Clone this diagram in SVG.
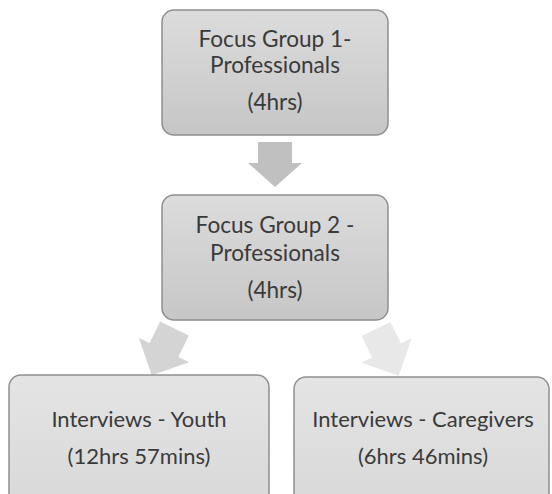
<svg xmlns="http://www.w3.org/2000/svg" width="552" height="494" viewBox="0 0 552 494">
  <defs>
    <linearGradient id="gTop" x1="0" y1="0" x2="0" y2="1">
      <stop offset="0" stop-color="#dcdcdc"/>
      <stop offset="1" stop-color="#c6c6c6"/>
    </linearGradient>
    <linearGradient id="gBot" x1="0" y1="0" x2="0" y2="1">
      <stop offset="0" stop-color="#e4e4e4"/>
      <stop offset="1" stop-color="#d8d8d8"/>
    </linearGradient>
    <path id="arrowShape" d="M-16,0 L16,0 L16,24 L28,24 L0,52 L-28,24 L-16,24 Z"/>
  </defs>
  <style>
    .box { stroke: #8f8f8f; stroke-width: 1.5; }
    .top { fill: url(#gTop); }
    .bot { fill: url(#gBot); }
    text { font-family: Lato, "Open Sans", "Liberation Sans", sans-serif; font-size: 22px; fill: #3a3a3a; text-anchor: middle; }
    .t { font-size: 22.6px; }
  </style>
  <rect width="552" height="494" fill="#ffffff"/>

  <g id="connectors">
    <path d="M258,142 L292,142 L292,163 L302,163 L275,187 L248,163 L258,163 Z" fill="#c0c0c0"/>
    <use href="#arrowShape" transform="translate(174.5,328.5) rotate(26)" fill="#d4d4d4"/>
    <use href="#arrowShape" transform="translate(376,329) rotate(-26)" fill="#e8e8e8"/>
  </g>

  <g id="fg1">
    <rect class="box top" x="162" y="10" width="226" height="125" rx="12"/>
    <text class="t" x="275" y="47">Focus Group 1-</text>
    <text class="t" x="275" y="73">Professionals</text>
    <text class="t" x="275" y="110">(4hrs)</text>
  </g>

  <g id="fg2">
    <rect class="box top" x="162" y="195" width="226" height="125" rx="12"/>
    <text class="t" x="275" y="233">Focus Group 2 -</text>
    <text class="t" x="275" y="261">Professionals</text>
    <text class="t" x="275" y="298">(4hrs)</text>
  </g>

  <g id="youth">
    <rect class="box bot" x="9" y="375" width="260" height="135" rx="12"/>
    <text x="139" y="427">Interviews - Youth</text>
    <text x="139" y="464">(12hrs 57mins)</text>
  </g>

  <g id="caregivers">
    <rect class="box bot" x="294" y="377" width="255" height="135" rx="12"/>
    <text x="423" y="427">Interviews - Caregivers</text>
    <text x="423" y="464">(6hrs 46mins)</text>
  </g>
</svg>
